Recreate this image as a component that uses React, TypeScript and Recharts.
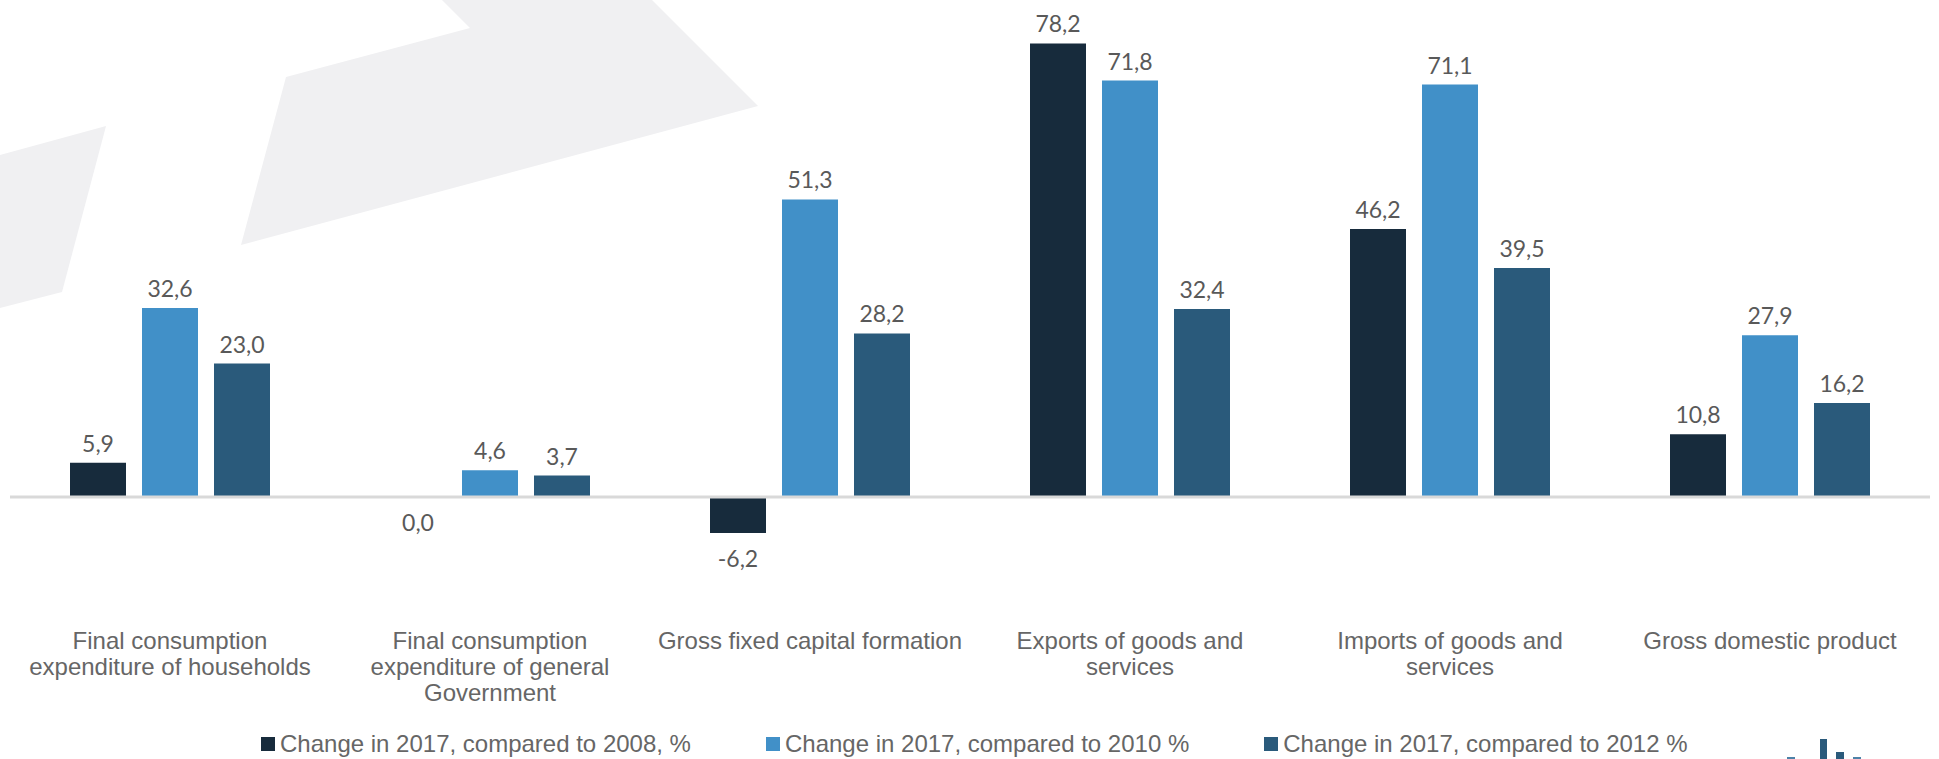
import React from 'react';
import { BarChart, Bar, XAxis, YAxis, LabelList, ReferenceLine } from 'recharts';

const categories = [
    'Final consumption expenditure of households',
    'Final consumption expenditure of general Government',
    'Gross fixed capital formation',
    'Exports of goods and services',
    'Imports of goods and services',
    'Gross domestic product',
];

// how the category names wrap under the axis
const categoryLines = [
    ['Final consumption', 'expenditure of households'],
    ['Final consumption', 'expenditure of general', 'Government'],
    ['Gross fixed capital formation'],
    ['Exports of goods and', 'services'],
    ['Imports of goods and', 'services'],
    ['Gross domestic product'],
];

const change2008 = [5.9, 0.0, -6.2, 78.2, 46.2, 10.8];
const change2010 = [32.6, 4.6, 51.3, 71.8, 71.1, 27.9];
const change2012 = [23.0, 3.7, 28.2, 32.4, 39.5, 16.2];

const seriesNames = [
    'Change in 2017, compared to 2008, %',
    'Change in 2017, compared to 2010 %',
    'Change in 2017, compared to 2012 %',
];
const seriesColors = ['#172b3c', '#4190c8', '#2a5a7b'];

const chartData = categories.map((name, i) => ({
    name,
    c2008: change2008[i],
    c2010: change2010[i],
    c2012: change2012[i],
}));

const fmt = (v: number) => v.toFixed(1).replace('.', ',');

const ValueLabel = (props: any) => {
    const { x, y, width, height, value } = props;
    const v = Number(value);
    const top = Math.min(y, y + height);
    const bottom = Math.max(y, y + height);
    const ty = v > 0 ? top - 11 : bottom + 34;
    return (
        <text x={x + width / 2} y={ty} textAnchor="middle" fill="#595959"
            style={{ fontFamily: 'Lato', fontSize: 23 }}>
            {fmt(v)}
        </text>
    );
};

const CategoryTick = (props: any) => {
    const { x, y, index } = props;
    const lines = categoryLines[index] || [];
    return (
        <text x={x} y={y + 86} textAnchor="middle" fill="#666666"
            style={{ fontFamily: 'Liberation Sans', fontSize: 24 }}>
            {lines.map((l, i) => (
                <tspan key={i} x={x} dy={i === 0 ? 0 : 26}>{l}</tspan>
            ))}
        </text>
    );
};

// a zero bar still needs its label, so give it a 1px stub (hidden under the zero line)
const zeroStub = (value: any) => (Number(value) === 0 ? 1 : 0);

const App: React.FC = () => {
    return (
        <div style={{ position: 'absolute', left: 0, top: 0, width: 1939, height: 759, overflow: 'hidden', background: '#fff' }}>
            <svg width={1939} height={759} style={{ position: 'absolute', left: 0, top: 0 }}>
                <polygon points="442,0 652,0 758,106 241,245 286,77 470,28" fill="#f0f0f2" />
                <polygon points="0,155 106,126 62,292 0,308" fill="#f0f0f2" />
            </svg>
            <div style={{ position: 'absolute', left: 0, top: 0 }}>
                <BarChart width={1939} height={759} data={chartData} barSize={56} barGap={16}
                    margin={{ top: 33, right: 9, left: 10, bottom: 0 }}>
                    <XAxis dataKey="name" axisLine={false} tickLine={false} height={204}
                        interval={0} tick={<CategoryTick />} />
                    <YAxis hide domain={[-10, 80]} />
                    <Bar dataKey="c2008" name={seriesNames[0]} fill={seriesColors[0]} minPointSize={zeroStub} isAnimationActive={false}>
                        <LabelList dataKey="c2008" content={<ValueLabel />} />
                    </Bar>
                    <Bar dataKey="c2010" name={seriesNames[1]} fill={seriesColors[1]} isAnimationActive={false}>
                        <LabelList dataKey="c2010" content={<ValueLabel />} />
                    </Bar>
                    <Bar dataKey="c2012" name={seriesNames[2]} fill={seriesColors[2]} isAnimationActive={false}>
                        <LabelList dataKey="c2012" content={<ValueLabel />} />
                    </Bar>
                    <ReferenceLine y={0} stroke="#d9d9d9" strokeWidth={3} />
                </BarChart>
            </div>
            {/* legend */}
            <div style={{ position: 'absolute', left: 261, top: 730, display: 'flex', gap: 75,
                fontFamily: 'Liberation Sans', fontSize: 24, color: '#666666', lineHeight: '28px' }}>
                {seriesNames.map((s, i) => (
                    <div key={s} style={{ display: 'flex', alignItems: 'center' }}>
                        <span style={{ width: 14, height: 14, background: seriesColors[i], marginRight: 5, display: 'inline-block' }} />
                        <span>{s}</span>
                    </div>
                ))}
            </div>
            {/* small logo, cut by the bottom edge */}
            <div style={{ position: 'absolute', left: 1787, top: 757, width: 8, height: 10, background: '#4d82a8' }} />
            <div style={{ position: 'absolute', left: 1820, top: 739, width: 7, height: 30, background: '#2a5a7b' }} />
            <div style={{ position: 'absolute', left: 1836, top: 752, width: 8, height: 20, background: '#2a5a7b' }} />
            <div style={{ position: 'absolute', left: 1853, top: 757, width: 8, height: 10, background: '#4d82a8' }} />
        </div>
    );
};

export default App;
